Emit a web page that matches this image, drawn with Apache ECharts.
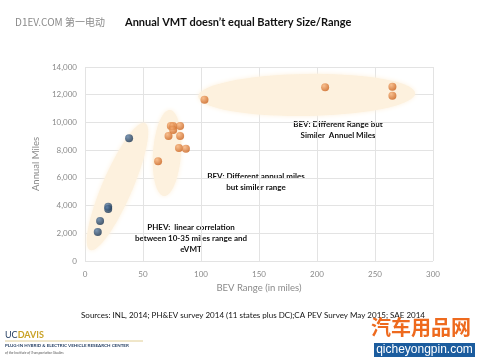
<!DOCTYPE html>
<html><head><meta charset="utf-8">
<script src="https://cdn.jsdelivr.net/npm/echarts@6/dist/echarts.min.js"></script>
<style>html,body{margin:0;padding:0;background:#fff}#c{width:480px;height:360px}</style>
</head><body><div id="c"></div>
<script>
// Data
const xTicks = [0, 50, 100, 150, 200, 250, 300];
const yTicks = [0, 2000, 4000, 6000, 8000, 10000, 12000, 14000];
const phevRange = [38, 20, 20, 13, 11];
const phevMiles = [8850, 3920, 3750, 2890, 2090];
const bevRange = [63, 74, 76, 82, 76, 72, 82, 81, 87, 103, 207, 265, 265];
const bevMiles = [7200, 9740, 9740, 9740, 9450, 9020, 9020, 8150, 8100, 11640, 12530, 12580, 11930];
// annotation ellipses: major-axis endpoints in data units
const ellipseX1 = [4.3, 68.1, 97.7];
const ellipseY1 = [790, 4690, 11870];
const ellipseX2 = [51.7, 73.3, 284.5];
const ellipseY2 = [9960, 10900, 12100];
const ellipseHalfWidthPx = [15, 14, 21];

const chart = echarts.init(document.getElementById('c'), null, {renderer: 'canvas'});
const ellipseData = ellipseX1.map((v, i) => [v, ellipseY1[i], ellipseX2[i], ellipseY2[i], ellipseHalfWidthPx[i]]);

function sphere(c1, c2) {
  return new echarts.graphic.RadialGradient(0.35, 0.3, 0.75, [
    {offset: 0, color: c1}, {offset: 1, color: c2}
  ]);
}
const font = 'Lato, "Open Sans", sans-serif';

chart.setOption({
  animation: false,
  grid: {left: 85, right: 47, top: 67, bottom: 99},
  xAxis: {
    type: 'value', min: 0, max: 300, interval: 50,
    axisLine: {show: false}, axisTick: {show: false},
    splitLine: {lineStyle: {color: '#e3e3e3'}},
    axisLabel: {color: '#8a8a8a', fontSize: 8, fontFamily: font, margin: 9},
    name: 'BEV Range (in miles)', nameLocation: 'middle', nameGap: 22,
    nameTextStyle: {color: '#8a8a8a', fontSize: 9.5, fontFamily: font}
  },
  yAxis: {
    type: 'value', min: 0, max: 14000, interval: 2000,
    axisLine: {show: false}, axisTick: {show: false},
    splitLine: {lineStyle: {color: '#e3e3e3'}},
    axisLabel: {color: '#8a8a8a', fontSize: 8, fontFamily: font, margin: 8,
      formatter: v => v.toLocaleString('en-US')},
    name: 'Annual Miles', nameLocation: 'middle', nameGap: 33,
    nameTextStyle: {color: '#8a8a8a', fontSize: 9.5, fontFamily: font}
  },
  series: [
    {
      type: 'custom', z: 1, silent: true,
      data: ellipseData,
      renderItem: function (params, api) {
        const p1 = api.coord([api.value(0), api.value(1)]);
        const p2 = api.coord([api.value(2), api.value(3)]);
        const b = api.value(4);
        const cx = (p1[0] + p2[0]) / 2, cy = (p1[1] + p2[1]) / 2;
        const a = Math.hypot(p2[0] - p1[0], p2[1] - p1[1]) / 2;
        const ang = Math.atan2(p2[1] - p1[1], p2[0] - p1[0]);
        const pts = [];
        for (let k = 0; k < 72; k++) {
          const t = k / 72 * Math.PI * 2;
          const ex = a * Math.cos(t), ey = b * Math.sin(t);
          pts.push([cx + ex * Math.cos(ang) - ey * Math.sin(ang), cy + ex * Math.sin(ang) + ey * Math.cos(ang)]);
        }
        return {type: 'polygon', shape: {points: pts},
          style: {fill: '#fdf1de', shadowBlur: 5, shadowColor: '#fdf1de'}};
      }
    },
    {
      type: 'scatter', z: 3, symbolSize: 8,
      data: phevRange.map((v, i) => [v, phevMiles[i]]),
      itemStyle: {color: sphere('#5a7ea6', '#16304d')}
    },
    {
      type: 'scatter', z: 3, symbolSize: 8,
      data: bevRange.map((v, i) => [v, bevMiles[i]]),
      itemStyle: {color: sphere('#f7b27a', '#c9601a')}
    }
  ],
  graphic: [
    {type: 'text', left: 15, top: 17, style: {text: 'D1EV.COM 第一电动', fill: '#8a8a8a', fontSize: 10, fontFamily: '"Noto Sans CJK SC", monospace'}},
    {type: 'text', left: 125, top: 17, style: {text: 'Annual VMT doesn’t equal Battery Size/Range', fill: '#111', fontSize: 11, fontWeight: 'bold', fontFamily: font}},
    {type: 'text', x: 191, y: 222, style: {text: 'PHEV:  linear correlation\nbetween 10-35 miles range and\neVMT', align: 'center', fill: '#111', fontSize: 8, fontWeight: 'bold', lineHeight: 11, fontFamily: font}},
    {type: 'text', x: 256, y: 171, style: {text: 'BEV: Different annual miles\nbut similer range', align: 'center', fill: '#111', fontSize: 8, fontWeight: 'bold', lineHeight: 11, fontFamily: font}},
    {type: 'text', x: 338, y: 119, style: {text: 'BEV: Different Range but\nSimiler  Annuel Miles', align: 'center', fill: '#111', fontSize: 8, fontWeight: 'bold', lineHeight: 11, fontFamily: font}},
    {type: 'text', x: 253, y: 311, style: {text: 'Sources: INL, 2014; PH&EV survey 2014 (11 states plus DC);CA PEV Survey May 2015; SAE 2014', align: 'center', fill: '#111', fontSize: 8, fontFamily: font}},
    {type: 'text', left: 5, top: 331, style: {text: '{a|UC}{b|DAVIS}', rich: {a: {fill: '#1f3a5f', fontSize: 9, fontFamily: font}, b: {fill: '#c9a227', fontSize: 9, fontWeight: 'bold', fontFamily: font}}}},
    {type: 'line', shape: {x1: 5, y1: 341, x2: 143, y2: 341}, style: {stroke: '#d9c27a', lineWidth: 0.8}},
    {type: 'text', left: 5, top: 343, style: {text: 'PLUG-IN HYBRID & ELECTRIC VEHICLE RESEARCH CENTER', fill: '#1f3a5f', fontSize: 4.5, fontWeight: 'bold', fontFamily: font}},
    {type: 'text', left: 5, top: 351, style: {text: 'of the Institute of Transportation Studies', fill: '#555', fontSize: 3.5, fontStyle: 'italic', fontFamily: font}},
    {type: 'text', left: 371, top: 317, style: {text: '汽车用品网', fill: '#ee6a1e', fontSize: 20, fontWeight: 'bold', fontFamily: '"Noto Sans CJK SC"'}},
    {type: 'rect', shape: {x: 374, y: 343, width: 101, height: 14}, style: {fill: '#1b5c9e'}},
    {type: 'text', x: 424.5, y: 344, style: {text: 'qicheyongpin.com', align: 'center', fill: '#fff', fontSize: 12, fontFamily: '"Liberation Sans", Arial'}}
  ]
});
</script></body></html>
